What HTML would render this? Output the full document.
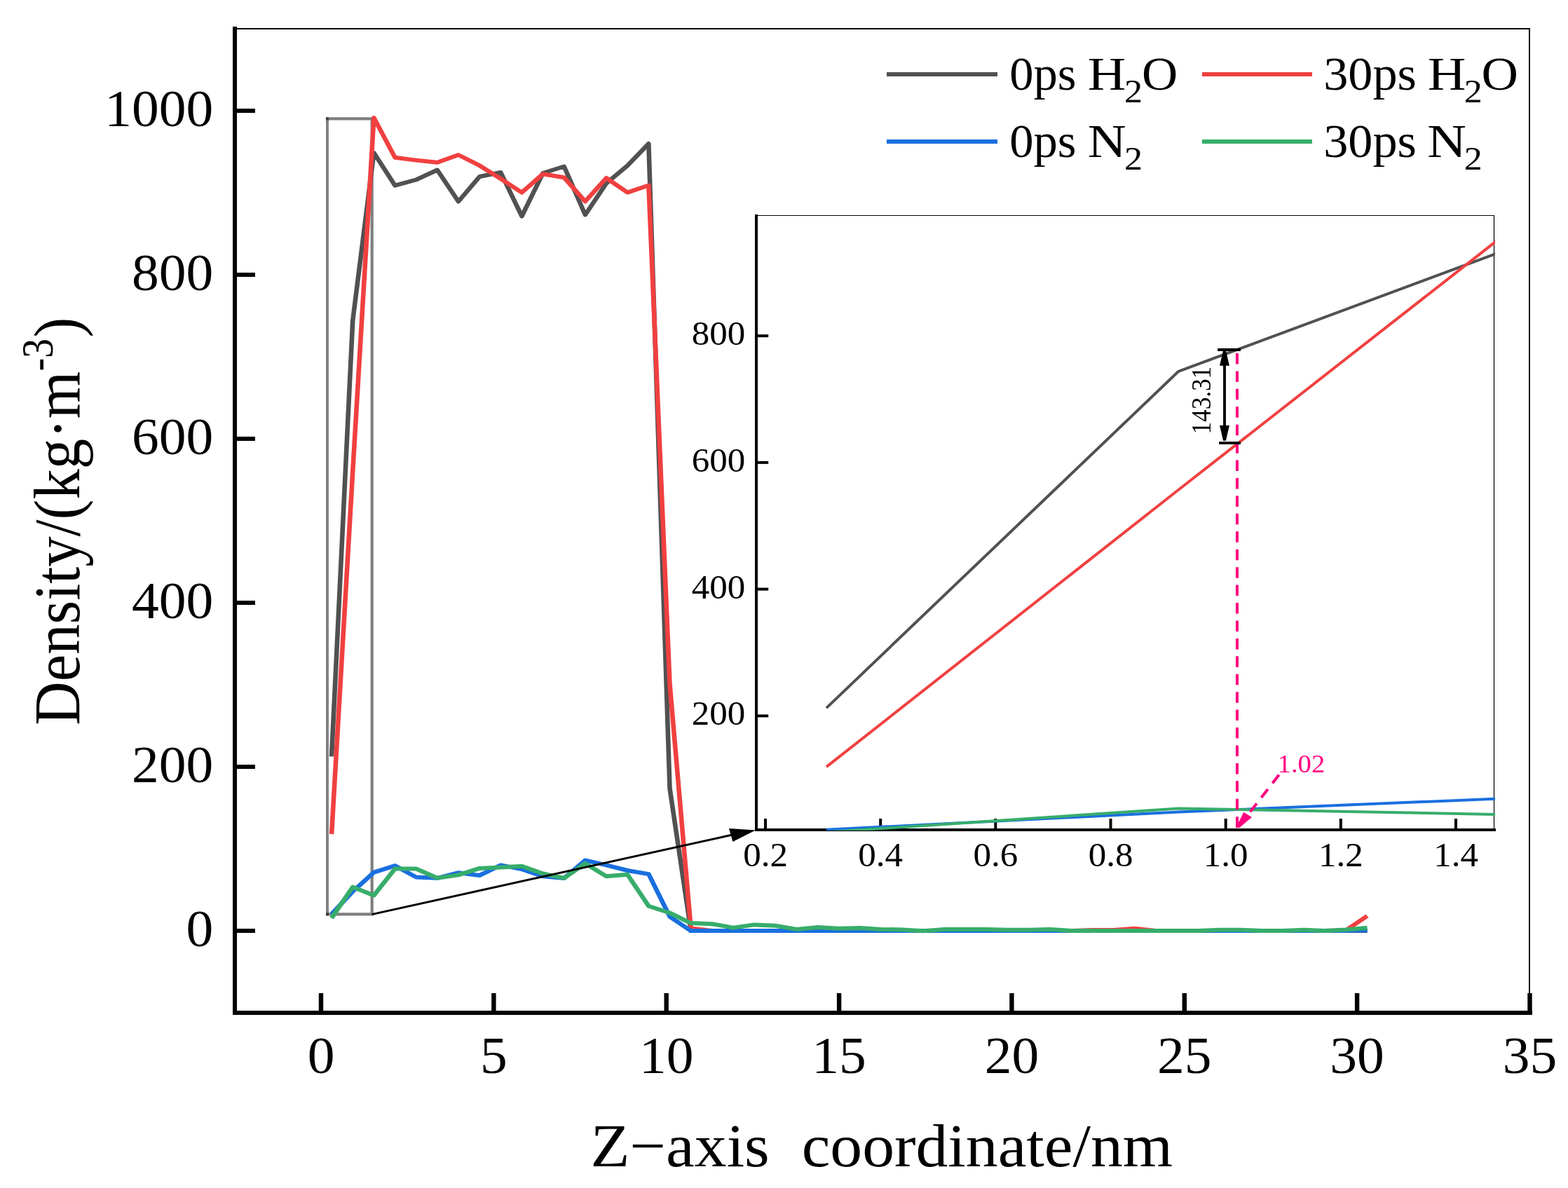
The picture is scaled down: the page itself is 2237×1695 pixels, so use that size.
<!DOCTYPE html>
<html lang="en">
<head>
<meta charset="utf-8">
<title>Density profile along Z-axis</title>
<style>
html,body{margin:0;padding:0;background:#fff;}
body{width:2237px;height:1695px;overflow:hidden;}
svg{display:block;}
text{font-family:'Liberation Serif', serif;fill:#000;}
</style>
</head>
<body>
<svg width="2237" height="1695" viewBox="0 0 2237 1695">
<rect x="0" y="0" width="2237" height="1695" fill="#fff"/>

<g id="zoombox" stroke="#000" stroke-opacity="0.5" stroke-width="4.2" fill="none">
<polyline points="464.9,169.3 530.7,169.3 530.7,1304.4 464.9,1304.4" stroke-linejoin="miter"/>
<line x1="467.0" y1="167.2" x2="467.0" y2="1306.5" stroke-width="3.9"/>
</g>
<g id="main-curves" transform="scale(1.1 1)">
<polyline points="430.07,1079.4 457.48,457.5 484.90,218.0 512.31,264.7 539.72,256.5 567.13,242.5 594.54,287.5 621.96,252.0 649.37,246.0 676.78,308.5 704.19,247.0 731.60,237.5 759.01,306.5 786.43,261.5 813.84,236.2 841.25,205.0 868.66,1125.0 896.07,1328.0 923.49,1328.0 950.90,1328.0 978.31,1328.0 1005.72,1328.0 1033.13,1328.0 1060.54,1328.0 1087.96,1328.0 1115.37,1328.0 1142.78,1328.0 1170.19,1328.0 1197.60,1328.0 1225.02,1328.0 1252.43,1328.0 1279.84,1328.0 1307.25,1328.0 1334.66,1328.0 1362.07,1328.0 1389.49,1328.0 1416.90,1328.0 1444.31,1328.0 1471.72,1328.0 1499.13,1328.0 1526.55,1328.0 1553.96,1328.0 1581.37,1328.0 1608.78,1328.0 1636.19,1328.0 1663.60,1328.0 1691.02,1328.0 1718.43,1328.0 1745.84,1328.0 1773.25,1328.0" fill="none" stroke="#515151" stroke-width="6.0" stroke-linejoin="round" stroke-linecap="butt"/>
<polyline points="430.07,1190.0 457.48,673.0 484.90,168.0 512.31,224.8 539.72,228.6 567.13,231.8 594.54,221.0 621.96,236.2 649.37,255.0 676.78,274.6 704.19,248.2 731.60,253.3 759.01,287.4 786.43,254.0 813.84,274.6 841.25,264.5 868.66,976.0 896.07,1324.6 923.49,1327.9 950.90,1327.9 978.31,1327.9 1005.72,1327.9 1033.13,1327.9 1060.54,1327.9 1087.96,1327.9 1115.37,1327.9 1142.78,1327.9 1170.19,1327.9 1197.60,1327.9 1225.02,1327.9 1252.43,1327.9 1279.84,1327.9 1307.25,1327.9 1334.66,1327.9 1362.07,1327.9 1389.49,1327.9 1416.90,1327.0 1444.31,1327.0 1471.72,1324.8 1499.13,1327.9 1526.55,1327.9 1553.96,1327.9 1581.37,1327.9 1608.78,1327.9 1636.19,1327.9 1663.60,1327.9 1691.02,1327.9 1718.43,1327.9 1745.84,1327.2 1773.25,1306.9" fill="none" stroke="#F14040" stroke-width="6.0" stroke-linejoin="round" stroke-linecap="butt"/>
<polyline points="430.07,1304.2 457.48,1272.0 484.90,1244.6 512.31,1235.1 539.72,1251.5 567.13,1252.8 594.54,1245.2 621.96,1249.0 649.37,1234.4 676.78,1240.1 704.19,1250.3 731.60,1253.0 759.01,1227.5 786.43,1234.4 813.84,1242.0 841.25,1247.1 868.66,1307.8 896.07,1328.1 923.49,1328.0 950.90,1328.0 978.31,1328.0 1005.72,1328.0 1033.13,1328.0 1060.54,1328.0 1087.96,1328.0 1115.37,1328.0 1142.78,1328.0 1170.19,1328.0 1197.60,1328.0 1225.02,1328.0 1252.43,1328.0 1279.84,1328.0 1307.25,1328.0 1334.66,1328.0 1362.07,1328.0 1389.49,1328.0 1416.90,1328.0 1444.31,1328.0 1471.72,1328.0 1499.13,1328.0 1526.55,1328.0 1553.96,1328.0 1581.37,1328.0 1608.78,1328.0 1636.19,1328.0 1663.60,1328.0 1691.02,1328.0 1718.43,1328.0 1745.84,1328.0 1773.25,1327.2" fill="none" stroke="#1A6FDF" stroke-width="6.0" stroke-linejoin="round" stroke-linecap="butt"/>
<polyline points="430.07,1309.8 457.48,1265.6 484.90,1277.5 512.31,1239.5 539.72,1239.5 567.13,1252.8 594.54,1248.4 621.96,1238.9 649.37,1237.6 676.78,1235.7 704.19,1246.5 731.60,1252.8 759.01,1231.9 786.43,1250.3 813.84,1247.7 841.25,1292.7 868.66,1302.5 896.07,1317.1 923.49,1318.2 950.90,1323.6 978.31,1319.4 1005.72,1320.7 1033.13,1325.9 1060.54,1323.1 1087.96,1324.8 1115.37,1323.9 1142.78,1325.9 1170.19,1326.4 1197.60,1328.2 1225.02,1325.9 1252.43,1325.9 1279.84,1325.9 1307.25,1326.7 1334.66,1326.7 1362.07,1325.9 1389.49,1328.0 1416.90,1328.0 1444.31,1328.0 1471.72,1328.0 1499.13,1328.0 1526.55,1328.0 1553.96,1328.0 1581.37,1326.7 1608.78,1326.7 1636.19,1328.0 1663.60,1328.0 1691.02,1326.7 1718.43,1328.0 1745.84,1326.5 1773.25,1323.8" fill="none" stroke="#37AD6B" stroke-width="6.0" stroke-linejoin="round" stroke-linecap="butt"/>
</g>
<g id="main-axes" stroke="#000" fill="none">
<line x1="335" y1="38" x2="335" y2="1448" stroke-width="6"/>
<line x1="332" y1="1445" x2="2186" y2="1445" stroke-width="6"/>
<line x1="338" y1="41" x2="2183" y2="41" stroke-width="2"/>
<line x1="2182" y1="40" x2="2182" y2="1442" stroke-width="2"/>
<line x1="338" y1="1328.0" x2="364" y2="1328.0" stroke-width="6"/>
<line x1="338" y1="1094.0" x2="364" y2="1094.0" stroke-width="6"/>
<line x1="338" y1="860.0" x2="364" y2="860.0" stroke-width="6"/>
<line x1="338" y1="626.0" x2="364" y2="626.0" stroke-width="6"/>
<line x1="338" y1="392.0" x2="364" y2="392.0" stroke-width="6"/>
<line x1="338" y1="158.0" x2="364" y2="158.0" stroke-width="6"/>
<line x1="458.0" y1="1417" x2="458.0" y2="1442" stroke-width="6.4"/>
<line x1="704.4" y1="1417" x2="704.4" y2="1442" stroke-width="6.4"/>
<line x1="950.7" y1="1417" x2="950.7" y2="1442" stroke-width="6.4"/>
<line x1="1197.1" y1="1417" x2="1197.1" y2="1442" stroke-width="6.4"/>
<line x1="1443.4" y1="1417" x2="1443.4" y2="1442" stroke-width="6.4"/>
<line x1="1689.8" y1="1417" x2="1689.8" y2="1442" stroke-width="6.4"/>
<line x1="1936.1" y1="1417" x2="1936.1" y2="1442" stroke-width="6.4"/>
<line x1="2182.5" y1="1417" x2="2182.5" y2="1442" stroke-width="6.4"/>
</g>
<g id="main-ticklabels">
<text transform="translate(304.3 1349.6) scale(1.042 1)" font-size="74.4" text-anchor="end">0</text>
<text transform="translate(304.3 1115.6) scale(1.042 1)" font-size="74.4" text-anchor="end">200</text>
<text transform="translate(304.3 881.6) scale(1.042 1)" font-size="74.4" text-anchor="end">400</text>
<text transform="translate(304.3 647.6) scale(1.042 1)" font-size="74.4" text-anchor="end">600</text>
<text transform="translate(304.3 413.6) scale(1.042 1)" font-size="74.4" text-anchor="end">800</text>
<text transform="translate(304.3 179.6) scale(1.042 1)" font-size="74.4" text-anchor="end">1000</text>
<text transform="translate(458.0 1530.5) scale(1.042 1)" font-size="74.4" text-anchor="middle">0</text>
<text transform="translate(704.4 1530.5) scale(1.042 1)" font-size="74.4" text-anchor="middle">5</text>
<text transform="translate(950.7 1530.5) scale(1.042 1)" font-size="74.4" text-anchor="middle">10</text>
<text transform="translate(1197.1 1530.5) scale(1.042 1)" font-size="74.4" text-anchor="middle">15</text>
<text transform="translate(1443.4 1530.5) scale(1.042 1)" font-size="74.4" text-anchor="middle">20</text>
<text transform="translate(1689.8 1530.5) scale(1.042 1)" font-size="74.4" text-anchor="middle">25</text>
<text transform="translate(1936.1 1530.5) scale(1.042 1)" font-size="74.4" text-anchor="middle">30</text>
<text transform="translate(2182.5 1530.5) scale(1.042 1)" font-size="74.4" text-anchor="middle">35</text>
</g>
<text id="xtitle" transform="translate(842.41 1663.5) scale(0.9170 0.8671)" font-size="100" xml:space="preserve">Z−axis  coordinate/nm</text>
<text id="ytitle" transform="translate(113.1 1034.80) rotate(-90) scale(0.8660 0.9300)" font-size="100" xml:space="preserve"><tspan x="0" y="0">Density/(kg·m</tspan><tspan x="583.37" dy="-40.86" font-size="68.28" textLength="53.87" lengthAdjust="spacingAndGlyphs">-3</tspan><tspan x="638.91" dy="40.86">)</tspan></text>
<g id="legend">
<line x1="1265" y1="106" x2="1423" y2="106" stroke="#515151" stroke-width="6"/>
<line x1="1265" y1="202" x2="1423" y2="202" stroke="#1A6FDF" stroke-width="6"/>
<line x1="1715" y1="106" x2="1872" y2="106" stroke="#F14040" stroke-width="6"/>
<line x1="1715" y1="202" x2="1872" y2="202" stroke="#37AD6B" stroke-width="6"/>
<text y="128.2" font-size="68.60" xml:space="preserve"><tspan x="1440.15" textLength="112.49" lengthAdjust="spacingAndGlyphs">0ps </tspan><tspan x="1551.74" textLength="54.52" lengthAdjust="spacingAndGlyphs">H</tspan><tspan x="1603.92" textLength="26.00" lengthAdjust="spacingAndGlyphs" dy="17.5" font-size="47.08">2</tspan><tspan x="1628.96" textLength="51.23" lengthAdjust="spacingAndGlyphs" dy="-17.5">O</tspan></text>
<text y="224.3" font-size="68.60" xml:space="preserve"><tspan x="1440.15" textLength="112.49" lengthAdjust="spacingAndGlyphs">0ps </tspan><tspan x="1551.72" textLength="54.95" lengthAdjust="spacingAndGlyphs">N</tspan><tspan x="1603.92" textLength="26.00" lengthAdjust="spacingAndGlyphs" dy="17.5" font-size="47.08">2</tspan></text>
<text y="128.2" font-size="68.60" xml:space="preserve"><tspan x="1888.19" textLength="150.34" lengthAdjust="spacingAndGlyphs">30ps </tspan><tspan x="2036.73" textLength="54.63" lengthAdjust="spacingAndGlyphs">H</tspan><tspan x="2088.82" textLength="26.00" lengthAdjust="spacingAndGlyphs" dy="17.5" font-size="47.08">2</tspan><tspan x="2113.59" textLength="52.47" lengthAdjust="spacingAndGlyphs" dy="-17.5">O</tspan></text>
<text y="224.3" font-size="68.60" xml:space="preserve"><tspan x="1888.19" textLength="150.34" lengthAdjust="spacingAndGlyphs">30ps </tspan><tspan x="2036.29" textLength="55.71" lengthAdjust="spacingAndGlyphs">N</tspan><tspan x="2088.82" textLength="26.00" lengthAdjust="spacingAndGlyphs" dy="17.5" font-size="47.08">2</tspan></text>
</g>
<defs><clipPath id="insclip"><rect x="1079" y="307" width="1054" height="878"/></clipPath></defs>
<g id="inset">
<rect x="1079" y="307.5" width="1052.5" height="876.5" fill="#fff"/>
<g stroke="#000" fill="none">
<line x1="1079" y1="306" x2="1079" y2="1186" stroke-width="4"/>
<line x1="1077" y1="1184" x2="2134" y2="1184" stroke-width="4"/>
<line x1="1081" y1="307.5" x2="2132" y2="307.5" stroke-width="1.2"/>
<line x1="2131.5" y1="307" x2="2131.5" y2="1182" stroke-width="1.2"/>
<line x1="1092.0" y1="1168" x2="1092.0" y2="1182" stroke-width="4"/>
<line x1="1256.2" y1="1168" x2="1256.2" y2="1182" stroke-width="4"/>
<line x1="1420.3" y1="1168" x2="1420.3" y2="1182" stroke-width="4"/>
<line x1="1584.5" y1="1168" x2="1584.5" y2="1182" stroke-width="4"/>
<line x1="1748.7" y1="1168" x2="1748.7" y2="1182" stroke-width="4"/>
<line x1="1912.8" y1="1168" x2="1912.8" y2="1182" stroke-width="4"/>
<line x1="2077.0" y1="1168" x2="2077.0" y2="1182" stroke-width="4"/>
<line x1="1081" y1="1021.4" x2="1096.2" y2="1021.4" stroke-width="4"/>
<line x1="1081" y1="840.6" x2="1096.2" y2="840.6" stroke-width="4"/>
<line x1="1081" y1="659.9" x2="1096.2" y2="659.9" stroke-width="4"/>
<line x1="1081" y1="479.2" x2="1096.2" y2="479.2" stroke-width="4"/>
</g>
<g clip-path="url(#insclip)" fill="none" stroke-linejoin="round">
<polyline points="1179.0,1010.1 1681.4,529.8 2183.7,343.7" stroke="#515151" stroke-width="4.0"/>
<polyline points="1179.0,1094.1 1681.4,698.8 2183.7,305.7" stroke="#F14040" stroke-width="4.0"/>
<polyline points="1179.0,1183.7 1681.4,1158.5 2183.7,1137.6" stroke="#1A6FDF" stroke-width="4.0"/>
<polyline points="1179.0,1187.3 1681.4,1153.5 2183.7,1162.9" stroke="#37AD6B" stroke-width="4.0"/>
</g>
<text transform="translate(1063.2 1034.4) scale(1.05 1)" font-size="48.6" text-anchor="end">200</text>
<text transform="translate(1063.2 853.6) scale(1.05 1)" font-size="48.6" text-anchor="end">400</text>
<text transform="translate(1063.2 672.9) scale(1.05 1)" font-size="48.6" text-anchor="end">600</text>
<text transform="translate(1063.2 492.2) scale(1.05 1)" font-size="48.6" text-anchor="end">800</text>
<text transform="translate(1092.0 1236.0) scale(1.05 1)" font-size="48.6" text-anchor="middle">0.2</text>
<text transform="translate(1256.2 1236.0) scale(1.05 1)" font-size="48.6" text-anchor="middle">0.4</text>
<text transform="translate(1420.3 1236.0) scale(1.05 1)" font-size="48.6" text-anchor="middle">0.6</text>
<text transform="translate(1584.5 1236.0) scale(1.05 1)" font-size="48.6" text-anchor="middle">0.8</text>
<text transform="translate(1748.7 1236.0) scale(1.05 1)" font-size="48.6" text-anchor="middle">1.0</text>
<text transform="translate(1912.8 1236.0) scale(1.05 1)" font-size="48.6" text-anchor="middle">1.2</text>
<text transform="translate(2077.0 1236.0) scale(1.05 1)" font-size="48.6" text-anchor="middle">1.4</text>
<line x1="1765" y1="504.0" x2="1765" y2="1182" stroke="#FF007F" stroke-width="4" stroke-dasharray="15.5 9.93"/>
<line x1="1824.7" y1="1105.5" x2="1782.9" y2="1159.2" stroke="#FF007F" stroke-width="4" stroke-dasharray="15.2 10.7"/>
<polygon points="1774.3,1158.8 1786,1166 1768.3,1181 1763.2,1181" fill="#FF007F"/>
<text transform="translate(1822.6 1102.0) scale(0.3869 0.3574)" font-size="100" style="fill:#FF007F">1.02</text>
<g stroke="#000" fill="#000">
<line x1="1737.1" y1="499" x2="1769.9" y2="499" stroke-width="3.8"/>
<line x1="1739.1" y1="632.05" x2="1769.9" y2="632.05" stroke-width="3.8"/>
<line x1="1747" y1="515" x2="1747" y2="615" stroke-width="3.9"/>
<polygon points="1745.1,500 1748.9,500 1753.9,521.7 1740.05,521.7" stroke="none"/>
<polygon points="1745.1,628.8 1748.9,628.8 1753.9,607.1 1740.05,607.1" stroke="none"/>
</g>
<text transform="translate(1726.71 619.46) rotate(-90) scale(0.3512 0.3910)" font-size="100">143.31</text>
</g>
<g id="connector">
<line x1="530.5" y1="1304.6" x2="1046" y2="1190.8" stroke="#000" stroke-width="3"/>
<polygon points="1040,1182 1078,1184.6 1045.4,1201" fill="#000"/>
</g>
</svg>
</body>
</html>
